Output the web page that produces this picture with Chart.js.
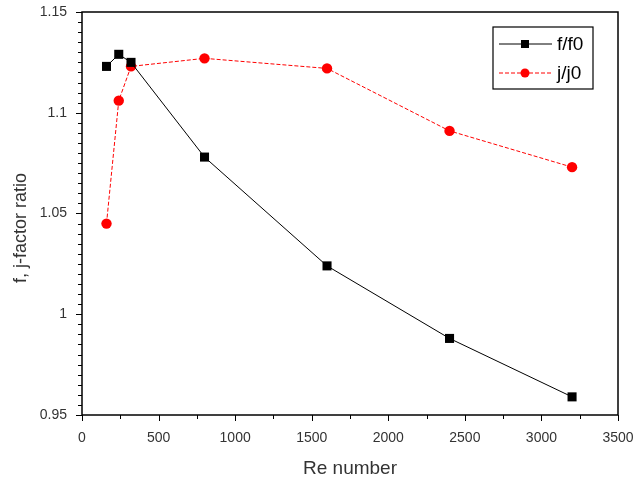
<!DOCTYPE html>
<html>
<head>
<meta charset="utf-8">
<script src="https://cdn.jsdelivr.net/npm/chart.js@4"></script>
<style>
  html, body { margin: 0; padding: 0; background: #fff; }
  #wrap { width: 635px; height: 481px; }
</style>
</head>
<body>
<div id="wrap"><canvas id="chart" width="635" height="481"></canvas></div>
<script>
// data
const reNumbers = [160, 240, 320, 800, 1600, 2400, 3200];
const fRatio = [1.123, 1.129, 1.125, 1.078, 1.024, 0.988, 0.959];
const jRatio = [1.045, 1.106, 1.123, 1.127, 1.122, 1.091, 1.073];
const seriesNames = ['f/f0', 'j/j0'];
const xTicks = [0, 500, 1000, 1500, 2000, 2500, 3000, 3500];
const yTicks = [0.95, 1, 1.05, 1.1, 1.15];
const yTitle = 'f, j-factor ratio';

const FONT = 'Liberation Sans, Arial, sans-serif';

const toPoints = (ys) => reNumbers.map((x, i) => ({ x: x, y: ys[i] }));

// frame, outward ticks, y title and the boxed legend, Origin style
const framePlugin = {
    id: 'frame',
    afterDraw(chart) {
        const ctx = chart.ctx;
        const a = chart.chartArea;
        const xs = chart.scales.x;
        const ys = chart.scales.y;
        ctx.save();
        ctx.strokeStyle = '#000';
        ctx.lineWidth = 1.5;
        ctx.strokeRect(a.left, a.top, a.right - a.left, a.bottom - a.top);

        ctx.lineWidth = 1;
        ctx.beginPath();
        for (let v = 0; v <= 3500; v += 250) {
            const px = Math.round(xs.getPixelForValue(v)) + 0.5;
            const len = v % 500 === 0 ? 6 : 4;
            ctx.moveTo(px, a.bottom);
            ctx.lineTo(px, a.bottom + len);
        }
        for (let k = 0; k <= 40; k++) {
            const v = 0.95 + k * 0.005;
            const py = Math.round(ys.getPixelForValue(v)) + 0.5;
            const len = k % 10 === 0 ? 6 : 4;
            ctx.moveTo(a.left, py);
            ctx.lineTo(a.left - len, py);
        }
        ctx.stroke();

        // y title, sits a bit below the axis centre in the original
        ctx.save();
        ctx.translate(21, 228);
        ctx.rotate(-Math.PI / 2);
        ctx.fillStyle = '#333';
        ctx.font = '18px ' + FONT;
        ctx.textAlign = 'center';
        ctx.textBaseline = 'middle';
        ctx.fillText(yTitle, 0, 0);
        ctx.restore();

        // legend box
        const bx = 493, by = 27, bw = 100, bh = 62;
        ctx.lineWidth = 1.2;
        ctx.strokeRect(bx, by, bw, bh);
        chart.data.datasets.forEach((ds, i) => {
            const cy = by + 17 + i * 29;
            ctx.beginPath();
            ctx.strokeStyle = ds.borderColor;
            ctx.lineWidth = 1;
            ctx.setLineDash(ds.borderDash || []);
            ctx.moveTo(bx + 6, cy);
            ctx.lineTo(bx + 59, cy);
            ctx.stroke();
            ctx.setLineDash([]);
            ctx.fillStyle = ds.pointBackgroundColor;
            ctx.beginPath();
            if (ds.pointStyle === 'rect') {
                ctx.rect(bx + 28, cy - 4, 8, 8);
            } else {
                ctx.arc(bx + 32, cy, 4.5, 0, Math.PI * 2);
            }
            ctx.fill();
            ctx.fillStyle = '#000';
            ctx.font = '19px ' + FONT;
            ctx.textBaseline = 'middle';
            ctx.textAlign = 'left';
            ctx.fillText(ds.label, bx + 64, cy + 1);
        });
        ctx.restore();
    }
};

const chart = new Chart(document.getElementById('chart').getContext('2d'), {
    type: 'line',
    data: {
        datasets: [
            {
                label: seriesNames[0],
                data: toPoints(fRatio),
                borderColor: '#000',
                borderWidth: 1,
                pointStyle: 'rect',
                pointRadius: 6.4,
                pointHoverRadius: 6.4,
                pointBackgroundColor: '#000',
                pointBorderWidth: 0,
                tension: 0
            },
            {
                label: seriesNames[1],
                data: toPoints(jRatio),
                borderColor: '#ff0000',
                borderWidth: 1,
                borderDash: [4, 2],
                pointStyle: 'circle',
                pointRadius: 5.2,
                pointHoverRadius: 5.2,
                pointBackgroundColor: '#ff0000',
                pointBorderWidth: 0,
                tension: 0
            }
        ]
    },
    options: {
        responsive: false,
        animation: false,
        layout: { padding: { top: 12, right: 17, left: 0, bottom: 0 } },
        plugins: {
            legend: { display: false },
            tooltip: { enabled: false }
        },
        scales: {
            x: {
                type: 'linear',
                min: xTicks[0],
                max: xTicks[xTicks.length - 1],
                afterBuildTicks: (s) => { s.ticks = xTicks.map(v => ({ value: v })); },
                afterFit: (s) => {
                    s.height = 66;
                    s.paddingLeft = 0;
                    s.paddingRight = 0;
                },
                grid: { display: false, drawTicks: false },
                border: { display: false },
                ticks: {
                    color: '#333',
                    font: { family: FONT, size: 14 },
                    padding: 15,
                    maxRotation: 0,
                    callback: (v) => String(v)
                },
                title: {
                    display: true,
                    text: 'Re number',
                    color: '#333',
                    font: { family: FONT, size: 19 },
                    padding: { top: 4, bottom: 1 }
                }
            },
            y: {
                type: 'linear',
                min: yTicks[0],
                max: yTicks[yTicks.length - 1],
                afterBuildTicks: (s) => { s.ticks = yTicks.map(v => ({ value: v })); },
                afterFit: (s) => {
                    s.width = 82;
                    s.paddingTop = 0;
                    s.paddingBottom = 0;
                },
                grid: { display: false, drawTicks: false },
                border: { display: false },
                ticks: {
                    color: '#333',
                    font: { family: FONT, size: 14 },
                    padding: 15,
                    callback: (v) => String(+v.toFixed(3))
                },
                title: { display: false }
            }
        }
    },
    plugins: [framePlugin]
});
</script>
</body>
</html>
